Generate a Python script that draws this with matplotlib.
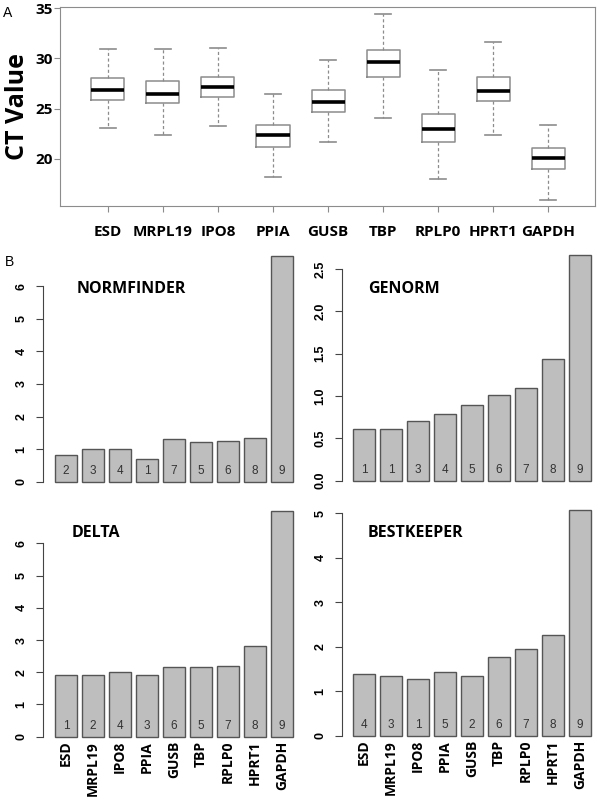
import matplotlib
matplotlib.use("Agg")
import matplotlib.pyplot as plt
import numpy as np

genes = ["ESD", "MRPL19", "IPO8", "PPIA", "GUSB", "TBP", "RPLP0", "HPRT1", "GAPDH"]

# Panel A - CT value box plots
ct_low = [23.1, 22.4, 23.3, 18.2, 21.7, 24.1, 18.0, 22.4, 15.9]
ct_q1 = [25.8, 25.5, 26.1, 21.2, 24.7, 28.1, 21.7, 25.7, 19.0]
ct_med = [26.8, 26.4, 27.1, 22.4, 25.6, 29.6, 23.0, 26.7, 20.1]
ct_q3 = [28.0, 27.7, 28.1, 23.4, 26.8, 30.8, 24.5, 28.1, 21.1]
ct_high = [30.9, 30.9, 31.0, 26.4, 29.8, 34.4, 28.8, 31.6, 23.4]

# Panel B - stability values and ranks
normfinder = [0.82, 1.01, 1.01, 0.70, 1.31, 1.21, 1.26, 1.35, 6.94]
normfinder_rank = [2, 3, 4, 1, 7, 5, 6, 8, 9]
genorm = [0.61, 0.61, 0.70, 0.79, 0.89, 1.01, 1.10, 1.44, 2.67]
genorm_rank = [1, 1, 3, 4, 5, 6, 7, 8, 9]
delta = [1.90, 1.91, 2.00, 1.93, 2.17, 2.15, 2.20, 2.81, 7.01]
delta_rank = [1, 2, 4, 3, 6, 5, 7, 8, 9]
bestkeeper = [1.38, 1.35, 1.28, 1.43, 1.33, 1.76, 1.94, 2.27, 5.07]
bestkeeper_rank = [4, 3, 1, 5, 2, 6, 7, 8, 9]

W, H = 600, 800
fig = plt.figure(figsize=(6, 8), dpi=100)
label_font = ["Open Sans", "DejaVu Sans"]


def px_axes(left, top, right, bottom):
    return fig.add_axes([left / W, 1 - bottom / H, (right - left) / W, (bottom - top) / H])


# ---- Panel A ----
ax = px_axes(60, 7.3, 595, 205.7)
stats = []
for i, g in enumerate(genes):
    stats.append(dict(label=g, whislo=ct_low[i], q1=ct_q1[i], med=ct_med[i],
                      q3=ct_q3[i], whishi=ct_high[i], fliers=[]))
frame_col = "#8c8c8c"
ax.bxp(stats, positions=np.arange(1, 10), widths=0.6, capwidths=0.3, showfliers=False,
       boxprops=dict(color=frame_col, lw=1.1),
       whiskerprops=dict(color=frame_col, lw=0.9, ls=(0, (2.5, 2))),
       capprops=dict(color=frame_col, lw=1.2),
       medianprops=dict(color="black", lw=2.6))
ax.set_xlim(0.13, 9.85)
ax.set_ylim(15.3, 35.1)
ax.set_yticks([20, 25, 30, 35])
for s in ax.spines.values():
    s.set_color(frame_col)
ax.tick_params(axis="both", color=frame_col, length=4)
ax.tick_params(axis="x", pad=10)
ax.tick_params(axis="y", pad=1)
for t in ax.get_xticklabels() + ax.get_yticklabels():
    t.set_fontfamily(label_font)
    t.set_fontweight("bold")
    t.set_fontsize(11)
ax.set_ylabel("CT Value", fontsize=18, fontweight="bold", family=label_font, labelpad=4)
fig.text(8 / W, 1 - 13 / H, "A", fontsize=10, family="Liberation Sans", ha="center", va="center")
fig.text(10 / W, 1 - 262 / H, "B", fontsize=10, family="Liberation Sans", ha="center", va="center")


# ---- Panel B ----
def bar_panel(box, xlim, ylim, values, ranks, ticks, fmt, title, title_px, show_names):
    a = px_axes(*box)
    x = np.arange(len(values))
    bars = a.bar(x, values, width=0.84, color="#bebebe", edgecolor="#555555", lw=1)
    for b in bars:
        b.set_clip_on(False)
    for xi, r in zip(x, ranks):
        a.annotate(str(r), (xi, 0), xytext=(0, 7.5), textcoords="offset points",
                   ha="center", va="center", fontsize=8.5, color="#333333",
                   family="Liberation Sans")
    a.set_xlim(*xlim)
    a.set_ylim(0, ylim)
    for k in ["top", "right", "bottom"]:
        a.spines[k].set_visible(False)
    a.spines["left"].set_bounds(0, ticks[-1])
    a.spines["left"].set_color("#444444")
    a.set_yticks(ticks)
    a.set_yticklabels([fmt.format(t) for t in ticks], rotation=90, va="center",
                      fontsize=9, fontweight="bold", family="Liberation Sans")
    a.tick_params(axis="y", length=5, pad=6, color="#444444")
    if show_names:
        a.set_xticks(x)
        a.set_xticklabels(genes, rotation=90, va="top", ha="center", fontsize=10,
                          fontweight="bold", family=label_font)
        a.tick_params(axis="x", length=0, pad=3)
    else:
        a.set_xticks([])
    fig.text(title_px[0] / W, 1 - title_px[1] / H, title, fontsize=11.5, fontweight="bold",
             family=label_font, ha="left", va="center")
    return a


bar_panel((43, 250, 295, 481.7), (-0.85, 8.48), 7.11, normfinder, normfinder_rank,
          [0, 1, 2, 3, 4, 5, 6], "{:g}", "NORMFINDER", (77, 289), False)
bar_panel((342, 250, 595, 480.7), (-0.81, 8.56), 2.724, genorm, genorm_rank,
          [0.0, 0.5, 1.0, 1.5, 2.0, 2.5], "{:.1f}", "GENORM", (368, 289), False)
bar_panel((43, 506, 295, 736.7), (-0.85, 8.48), 7.16, delta, delta_rank,
          [0, 1, 2, 3, 4, 5, 6], "{:g}", "DELTA", (72, 533), True)
bar_panel((342, 506, 595, 735.7), (-0.81, 8.56), 5.16, bestkeeper, bestkeeper_rank,
          [0, 1, 2, 3, 4, 5], "{:g}", "BESTKEEPER", (368, 533), True)

fig.savefig("out.png", dpi=100)
